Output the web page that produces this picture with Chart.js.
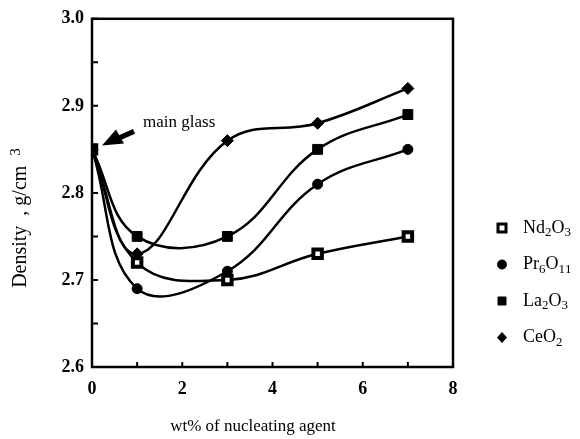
<!DOCTYPE html>
<html>
<head>
<meta charset="utf-8">
<script src="https://cdn.jsdelivr.net/npm/chart.js@4.4.0/dist/chart.umd.min.js"></script>
<style>
  body { margin: 0; background: #fff; }
  #wrap { width: 580px; height: 439px; }
</style>
</head>
<body>
<div id="wrap"><canvas id="density"></canvas></div>
<script>
  // wt% of nucleating agent
  const wt = [0, 1, 3, 5, 7];

  const nd2o3 = [2.85, 2.72, 2.70, 2.73, 2.75];
  const pr6o11 = [2.85, 2.69, 2.71, 2.81, 2.85];
  const la2o3 = [2.85, 2.75, 2.75, 2.85, 2.89];
  const ceo2 = [2.85, 2.73, 2.86, 2.88, 2.92];

  const seriesNames = ['Nd₂O₃', 'Pr₆O₁₁', 'La₂O₃', 'CeO₂'];
  const xTickLabels = [0, 2, 4, 6, 8];
  const yTickLabels = [2.6, 2.7, 2.8, 2.9, 3.0];

  const serif = '"Liberation Serif", "DejaVu Serif", serif';
  const subMap = { '₀': '0', '₁': '1', '₂': '2', '₃': '3', '₄': '4', '₅': '5', '₆': '6', '₇': '7', '₈': '8', '₉': '9' };

  function pts(ys) {
    return wt.map((x, i) => ({ x: x, y: ys[i] }));
  }

  // draw text where unicode subscript digits are lowered, ³ raised
  function richText(ctx, text, x, y, size, dry) {
    let cx = x;
    for (const ch of text) {
      let s = ch, dy = 0, fs = size;
      if (subMap[ch]) { s = subMap[ch]; fs = Math.round(size * 0.7); dy = size * 0.28; }
      else if (ch === '³') { s = '3'; fs = Math.round(size * 0.75); dy = -size * 0.3; }
      ctx.font = fs + 'px ' + serif;
      if (!dry) ctx.fillText(s, cx, y + dy);
      cx += ctx.measureText(s).width;
    }
    return cx - x;
  }

  const decorations = {
    id: 'decorations',
    afterDraw(chart) {
      const ctx = chart.ctx;
      const a = chart.chartArea;
      const xs = chart.scales.x, ys = chart.scales.y;
      ctx.save();
      ctx.strokeStyle = '#000';
      ctx.fillStyle = '#000';

      // frame
      ctx.lineWidth = 2.5;
      ctx.strokeRect(a.left, a.top, a.right - a.left, a.bottom - a.top);

      // inward ticks
      ctx.lineWidth = 2;
      ctx.beginPath();
      xs.ticks.forEach(t => {
        const p = xs.getPixelForValue(t.value);
        ctx.moveTo(p, a.bottom);
        ctx.lineTo(p, a.bottom - 5);
      });
      ys.ticks.forEach(t => {
        const p = ys.getPixelForValue(t.value);
        ctx.moveTo(a.left, p);
        ctx.lineTo(a.left + 6, p);
      });
      ctx.stroke();

      // main glass arrow
      const px = xs.getPixelForValue(0), py = ys.getPixelForValue(2.85);
      const tipX = px + 10, tipY = py - 4;
      ctx.lineWidth = 5;
      ctx.beginPath();
      ctx.moveTo(px + 42, py - 18);
      ctx.lineTo(tipX + 14, tipY - 6);
      ctx.stroke();
      ctx.beginPath();
      ctx.moveTo(tipX, tipY);
      ctx.lineTo(tipX + 14, tipY - 16);
      ctx.lineTo(tipX + 22, tipY - 2);
      ctx.closePath();
      ctx.fill();
      ctx.textAlign = 'left';
      ctx.textBaseline = 'alphabetic';
      ctx.font = '17px ' + serif;
      ctx.fillText('main glass', px + 51, py - 22);

      // axis titles
      ctx.font = '17px ' + serif;
      ctx.textAlign = 'center';
      ctx.fillText('wt% of nucleating agent', 253, 431);
      ctx.save();
      ctx.translate(26, 218);
      ctx.rotate(-Math.PI / 2);
      ctx.textAlign = 'left';
      const title = 'Density  , g/cm  ³';
      const w = richText(ctx, title, 0, 0, 20, true);
      richText(ctx, title, -w / 2, 0, 20);
      ctx.restore();

      // legend
      ctx.textAlign = 'left';
      ctx.textBaseline = 'middle';
      chart.data.datasets.forEach((ds, i) => {
        const ly = 228 + i * 36.5;
        ctx.fillStyle = ds.pointBackgroundColor;
        ctx.strokeStyle = '#000';
        ctx.lineWidth = ds.pointBackgroundColor === '#fff' ? 3 : 1;
        ctx.beginPath();
        const r = ds.pointStyle === 'rect' ? 4 : 4.5;
        if (ds.pointStyle === 'rect') {
          ctx.rect(502 - r, ly - r, 2 * r, 2 * r);
        } else if (ds.pointStyle === 'circle') {
          ctx.arc(502, ly, r, 0, Math.PI * 2);
        } else {
          ctx.moveTo(502, ly - r - 0.5); ctx.lineTo(502 + r, ly); ctx.lineTo(502, ly + r + 0.5); ctx.lineTo(502 - r, ly);
          ctx.closePath();
        }
        ctx.fill();
        ctx.stroke();
        ctx.fillStyle = '#000';
        richText(ctx, ds.label, 523, ly, 18);
      });
      ctx.restore();
    }
  };

  function line(label, ys, style, radius, fill, order) {
    return {
      label: label,
      data: pts(ys),
      borderColor: '#000',
      borderWidth: 2.5,
      tension: 0.4,
      pointStyle: style,
      pointRadius: radius,
      pointBackgroundColor: fill,
      pointBorderColor: '#000',
      pointBorderWidth: fill === '#fff' ? 4 : 1,
      order: order
    };
  }

  new Chart(document.getElementById('density'), {
    type: 'line',
    data: {
      datasets: [
        line(seriesNames[0], nd2o3, 'rect', 6, '#fff', 2),
        line(seriesNames[1], pr6o11, 'circle', 5, '#000', 2),
        line(seriesNames[2], la2o3, 'rect', 7, '#000', 0),
        line(seriesNames[3], ceo2, 'rectRot', 6, '#000', 1)
      ]
    },
    options: {
      responsive: true,
      maintainAspectRatio: false,
      animation: false,
      devicePixelRatio: 1,
      layout: { padding: { left: 0, top: 15, right: 127, bottom: 0 } },
      plugins: { legend: { display: false }, tooltip: { enabled: false } },
      scales: {
        x: {
          type: 'linear',
          min: 0, max: 8,
          afterFit: s => { s.height = 72; },
          border: { display: false },
          grid: { display: false, drawTicks: false },
          ticks: {
            stepSize: 1,
            padding: 12,
            color: '#000',
            font: { family: serif, size: 18, weight: 'bold' },
            callback: v => xTickLabels.includes(v) ? v : ''
          }
        },
        y: {
          min: 2.6, max: 3.0,
          afterFit: s => { s.width = 92; },
          border: { display: false },
          grid: { display: false, drawTicks: false },
          ticks: {
            stepSize: 0.05,
            padding: 8,
            color: '#000',
            font: { family: serif, size: 18, weight: 'bold' },
            callback: v => {
              const hit = yTickLabels.find(t => Math.abs(t - v) < 1e-6);
              return hit !== undefined ? hit.toFixed(1) : '';
            }
          }
        }
      }
    },
    plugins: [decorations]
  });
</script>
</body>
</html>
